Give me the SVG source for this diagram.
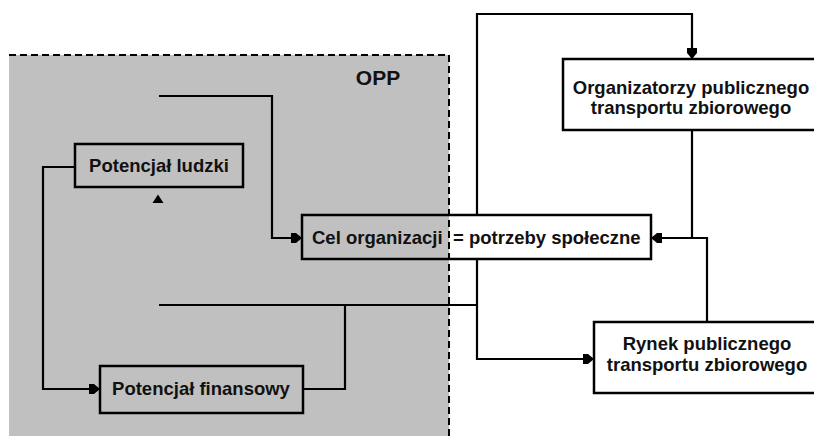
<svg xmlns="http://www.w3.org/2000/svg" width="814" height="437" viewBox="0 0 814 437">
<style>
text{font-family:"Liberation Sans",Arial,sans-serif;font-weight:bold;font-size:18.5px;fill:#111}
.box{fill:none;stroke:#000;stroke-width:2.5}
.wbox{fill:#fff;stroke:#000;stroke-width:2.5}
.c{fill:none;stroke:#000;stroke-width:2.2}
</style>
<defs>
<marker id="ah" markerUnits="userSpaceOnUse" markerWidth="14" markerHeight="14" viewBox="-1 -7 13 14" refX="11" refY="0" orient="auto">
<path d="M0,-5 L5,-5 L11,0 L5,5 L0,5 Z" fill="#000"/>
</marker>
</defs>
<g id="opp">
<rect x="9" y="55" width="440" height="381" fill="#c0c0c0"/>
<path d="M9,55 H449 V437" fill="none" stroke="#000" stroke-width="2" stroke-dasharray="7,4"/>
<text x="378" y="85" text-anchor="middle" style="font-size:21px">OPP</text>
</g>
<g id="connectors">
<path class="c" d="M159,96 H272 V238 H302" marker-end="url(#ah)"/>
<path class="c" d="M75,167 H43 V389 H100" marker-end="url(#ah)"/>
<path class="c" d="M303,389 H345 V305"/>
<path class="c" d="M159,305 H477"/>
<path class="c" d="M477,259 V359 H594" marker-end="url(#ah)"/>
<path class="c" d="M477,215 V14 H692 V59" marker-end="url(#ah)"/>
<path class="c" d="M692,130 V238 H651" marker-end="url(#ah)"/>
<path class="c" d="M707,322 V238 H692"/>
<path d="M158,194.5 L163.5,203 H152.5 Z" fill="#000"/>
</g>
<g id="potencjal-ludzki">
<rect class="box" x="75" y="144" width="168" height="43"/>
<text x="159" y="172" text-anchor="middle">Potencjał ludzki</text>
</g>
<g id="potencjal-finansowy">
<rect class="box" x="100" y="366" width="203" height="47"/>
<text x="201" y="395" text-anchor="middle">Potencjał finansowy</text>
</g>
<g id="cel">
<rect class="box" x="302" y="215" width="349" height="44"/>
<text x="312" y="244">Cel organizacji</text>
<text x="453" y="244">= potrzeby społeczne</text>
</g>
<g id="organizatorzy">
<rect class="wbox" x="563" y="59" width="260" height="71"/>
<text x="691" y="94" text-anchor="middle">Organizatorzy publicznego</text>
<text x="691" y="114" text-anchor="middle">transportu zbiorowego</text>
</g>
<g id="rynek">
<rect class="wbox" x="594" y="322" width="229" height="71"/>
<text x="707" y="350" text-anchor="middle">Rynek publicznego</text>
<text x="707" y="371" text-anchor="middle">transportu zbiorowego</text>
</g>
</svg>
